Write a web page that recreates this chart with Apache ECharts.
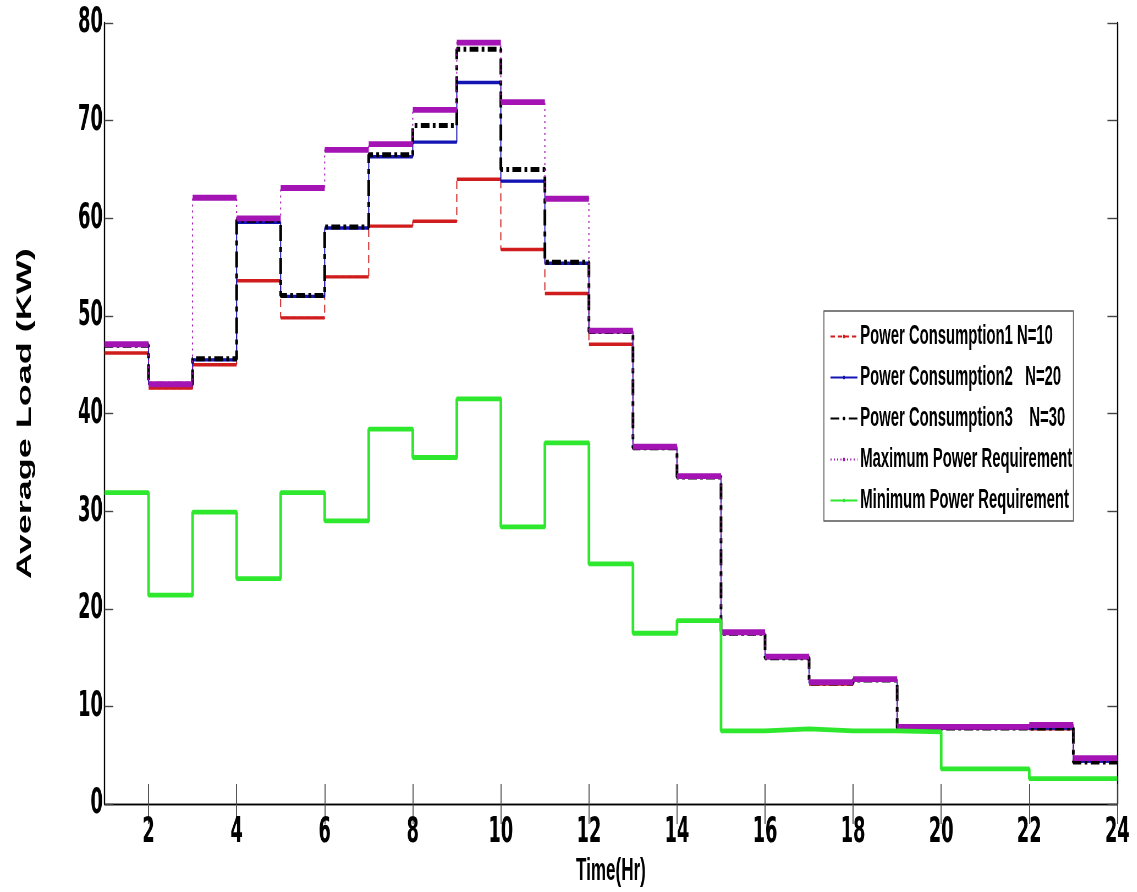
<!DOCTYPE html>
<html>
<head>
<meta charset="utf-8">
<script src="https://cdn.jsdelivr.net/npm/echarts@6/dist/echarts.min.js"></script>
<style>
  html, body { margin: 0; padding: 0; background: #fff; overflow: hidden; width: 1137px; height: 892px; }
  #chart { position: absolute; left: 0; top: 0; height: 892px; transform-origin: 0 0; }
</style>
</head>
<body>
<div id="chart"></div>
<script>
// ---- data (value of each series during hour interval [h, h+1]) ----
const hours = [1, 2, 3, 4, 5, 6, 7, 8, 9, 10, 11, 12, 13, 14, 15, 16, 17, 18, 19, 20, 21, 22, 23];
const endHour = 24;
const powerConsumption1 = [46.2, 42.6, 45.0, 53.6, 49.8, 54.0, 59.2, 59.7, 64.0, 56.8, 52.3, 47.1, 36.5, 33.5, 17.5, 15.0, 12.3, 12.7, 7.8, 7.8, 7.8, 7.7, 4.4];
const powerConsumption2 = [47.0, 43.0, 45.5, 59.6, 52.0, 59.0, 66.3, 67.8, 73.9, 63.8, 55.4, 48.4, 36.5, 33.5, 17.5, 15.0, 12.4, 12.7, 7.8, 7.8, 7.8, 7.8, 4.4];
const powerConsumption3 = [47.0, 43.0, 45.6, 59.8, 52.1, 59.1, 66.5, 69.5, 77.3, 65.0, 55.5, 48.4, 36.5, 33.5, 17.5, 15.0, 12.4, 12.7, 7.8, 7.8, 7.8, 7.8, 4.3];
const maxPower = [47.1, 43.0, 62.1, 60.0, 63.1, 67.0, 67.6, 71.1, 78.0, 71.9, 62.0, 48.5, 36.6, 33.6, 17.6, 15.1, 12.5, 12.8, 7.9, 7.9, 7.9, 8.1, 4.7];
const minPower = [31.9, 21.4, 29.9, 23.1, 31.9, 29.0, 38.4, 35.5, 41.5, 28.4, 37.0, 24.6, 17.5, 18.8, 7.5, 7.7, 7.5, 7.5, 7.4, 3.6, 3.6, 2.6, 2.6];
const seriesNames = ['Power Consumption1 N=10', 'Power Consumption2   N=20', 'Power Consumption3    N=30', 'Maximum Power Requirement', 'Minimum Power Requirement'];
const xTickValues = [2, 4, 6, 8, 10, 12, 14, 16, 18, 20, 22, 24];
const yTickValues = [0, 10, 20, 30, 40, 50, 60, 70, 80];
const xName = 'Time(Hr)';
const yName = 'Average Load (KW)';

// ---- layout: the reference figure is horizontally compressed ----
const SX = 0.55;
const W = 1137 / SX;
const el = document.getElementById('chart');
el.style.width = W + 'px';
el.style.transform = 'scaleX(' + SX + ')';

const NARROW = '"Liberation Sans Narrow", "Arial Narrow", "DejaVu Sans Condensed", sans-serif';
const SANS = '"Liberation Sans", Arial, "DejaVu Sans", sans-serif';

function stepData(vals) {
  const d = hours.map((h, i) => [h, vals[i]]);
  d.push([endHour, vals[vals.length - 1]]);
  return d;
}
function flatData(vals) {
  const d = [];
  hours.forEach((h, i) => {
    d.push([h, vals[i]]);
    d.push([h + 1, vals[i]]);
    d.push([h + 1, '-']);
  });
  return d;
}

const styles = [
  { vals: powerConsumption1, color: '#d01c1c', thin: { width: 2, type: [8, 5] }, thick: 3.4 },
  { vals: powerConsumption2, color: '#1414b4', thin: { width: 2, type: 'solid' }, thick: 3.4 },
  { vals: powerConsumption3, color: '#000000', thin: { width: 5, type: [16, 6, 5, 6] }, thick: null },
  { vals: maxPower, color: '#a414b4', thin: { width: 2, type: [2, 4] }, thick: 5.8 },
  { vals: minPower, color: '#2ee82e', thin: { width: 4.8, type: 'solid' }, thick: null }
];

const series = [];
styles.forEach((s, k) => {
  series.push({
    name: seriesNames[k],
    type: 'line',
    step: 'end',
    data: stepData(s.vals),
    symbol: 'none',
    color: s.color,
    lineStyle: { color: s.color, width: s.thin.width, type: s.thin.type },
    z: 2 + k * 2
  });
  if (s.thick) {
    series.push({
      name: seriesNames[k],
      type: 'line',
      data: flatData(s.vals),
      symbol: 'none',
      connectNulls: false,
      color: s.color,
      lineStyle: { color: s.color, width: s.thick, type: 'solid' },
      z: 3 + k * 2
    });
  }
});

const chart = echarts.init(el, null, { renderer: 'canvas' });
chart.setOption({
  animation: false,
  backgroundColor: '#ffffff',
  grid: { left: 190, right: 35.5, top: 23, bottom: 87, containLabel: false },
  legend: {
    data: seriesNames,
    orient: 'vertical',
    left: 1498,
    top: 311,
    padding: [12, 2, 7, 11],
    itemWidth: 49,
    itemHeight: 5,
    itemGap: 14,
    backgroundColor: '#ffffff',
    borderColor: '#555555',
    borderWidth: 1.6,
    borderRadius: 0,
    textStyle: { fontFamily: SANS, fontWeight: 'bold', fontSize: 27, color: '#000' }
  },
  xAxis: [
    {
      type: 'value', min: hours[0], max: endHour, position: 'bottom',
      axisLine: { show: true, lineStyle: { color: '#000', width: 1.4 } },
      axisTick: { show: true, inside: true, length: 20, customValues: xTickValues, lineStyle: { color: '#444', width: 1.8 } },
      axisLabel: { customValues: xTickValues, fontFamily: NARROW, fontWeight: 'bold', fontSize: 36, color: '#000', margin: 11 },
      splitLine: { show: false },
      name: xName, nameLocation: 'middle', nameGap: 44,
      nameTextStyle: { fontFamily: SANS, fontWeight: 'bold', fontSize: 31, color: '#000' }
    },
    {
      type: 'value', min: hours[0], max: endHour, position: 'top',
      axisLine: { show: true, lineStyle: { color: '#000', width: 1.4 } },
      axisTick: { show: true, inside: true, length: 20, customValues: xTickValues, lineStyle: { color: '#444', width: 1.8 } },
      axisLabel: { show: false },
      splitLine: { show: false }
    }
  ],
  yAxis: [
    {
      type: 'value', min: yTickValues[0], max: yTickValues[yTickValues.length - 1], interval: 10, position: 'left',
      axisLine: { show: true, lineStyle: { color: '#000', width: 2.4 } },
      axisTick: { show: true, inside: true, length: 16, lineStyle: { color: '#444', width: 1.4 } },
      axisLabel: { customValues: yTickValues, fontFamily: NARROW, fontWeight: 'bold', fontSize: 36, color: '#000', margin: 3 },
      splitLine: { show: false },
      name: yName, nameLocation: 'middle', nameGap: 126, nameRotate: 90,
      nameTextStyle: { fontFamily: SANS, fontWeight: 'bold', fontSize: 36, color: '#000' }
    },
    {
      type: 'value', min: yTickValues[0], max: yTickValues[yTickValues.length - 1], interval: 10, position: 'right',
      axisLine: { show: true, lineStyle: { color: '#000', width: 2.4 } },
      axisTick: { show: true, inside: true, length: 18, lineStyle: { color: '#444', width: 1.4 } },
      axisLabel: { show: false },
      splitLine: { show: false }
    }
  ],
  series: series
});
</script>
</body>
</html>
